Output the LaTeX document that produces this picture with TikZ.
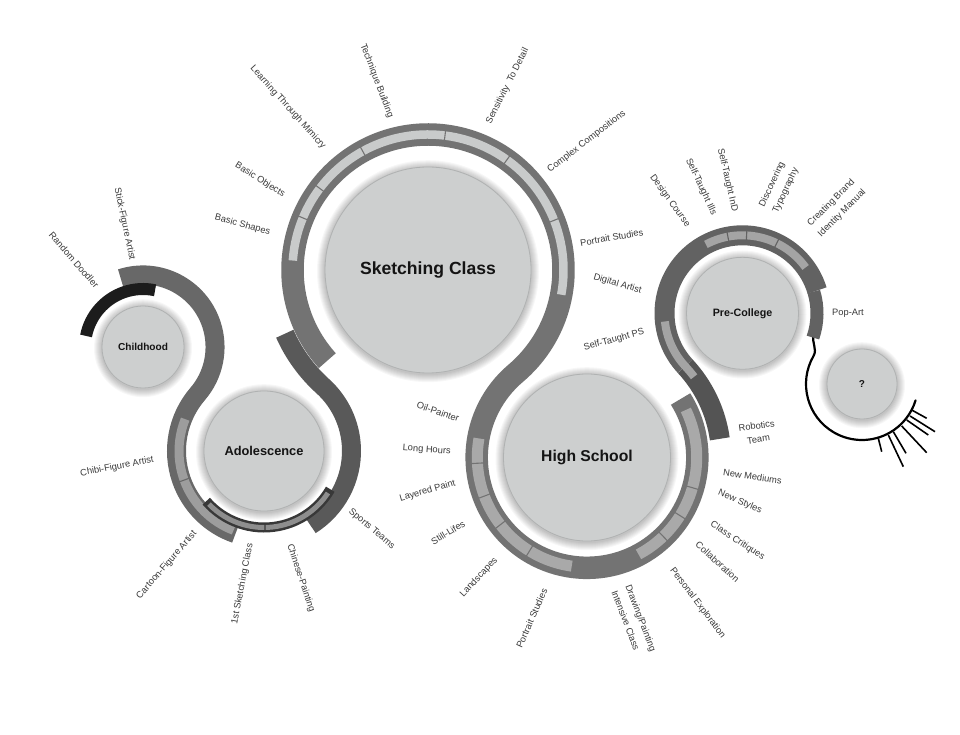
\documentclass[tikz,border=0pt]{standalone}
\usepackage{fontspec}
\setmainfont{Liberation Sans}
\usetikzlibrary{calc}
\definecolor{bandA}{HTML}{686868}
\definecolor{bandB}{HTML}{595959}
\definecolor{bandS}{HTML}{737373}
\definecolor{bandP}{HTML}{626262}
\definecolor{bandR}{HTML}{545454}
\definecolor{stripS}{HTML}{C9CBCB}
\definecolor{stripH}{HTML}{A9A9A9}
\definecolor{stripA}{HTML}{9D9D9D}
\definecolor{stripB}{HTML}{8E8E8E}
\definecolor{stripP}{HTML}{A4A4A4}
\definecolor{inkdark}{HTML}{1C1C1C}
\definecolor{blackband}{HTML}{383838}
\definecolor{circfill}{HTML}{CDCFCF}
\definecolor{circline}{HTML}{B0B2B2}
\definecolor{labelcol}{HTML}{3A3A3A}
\newcommand{\hubhalo}[3]{\foreach \k in {1,...,8}{\fill[black,fill opacity=0.03] (#1,#2-1.2) circle[radius={(#3+\k)*1pt}];}}
\newcommand{\segcut}[5]{\draw[#1,line width=1.1pt] ($(#2)+(#3:#4)$) -- ($(#2)+(#3:#5)$);}
\tikzset{
  lab/.style={font=\fontsize{9.3}{12.5}\selectfont, text=labelcol, inner sep=0pt},
  labtwo/.style={font=\fontsize{9.3}{15}\selectfont, text=labelcol, inner sep=0pt},
  hub/.style={circle, fill=circfill, draw=circline, line width=0.8pt, inner sep=0pt, text=black!92},
}
\begin{document}
\begin{tikzpicture}[x=1pt,y=1pt,line cap=butt]
\useasboundingbox (0,0) rectangle (960,734);
\fill[white] (0,0) rectangle (960,734);
\coordinate (C1) at (143,387);
\coordinate (C2) at (264,283);
\coordinate (C3) at (428,464);
\coordinate (C4) at (587,276.5);
\coordinate (C5) at (742.5,420.7);
\coordinate (C6) at (862,350);

% adolescence right band ending beside sketching ring
\draw[bandB, line width=19pt] ($(C2)+(-58:87.5)$) arc[start angle=-58, end angle=47.82, radius=87.5pt]
  arc[start angle=227.82, end angle=204, radius=156.75pt];
% childhood -> adolescence band
\draw[bandA, line width=19pt] ($(C1)+(108:72.05)$) arc[start angle=108, end angle=-40.68, radius=72.05pt]
  arc[start angle=139.32, end angle=251, radius=87.5pt];
% childhood black arc
\draw[inkdark, line width=12pt] ($(C1)+(169:58)$) arc[start angle=169, end angle=78, radius=58pt];
% adolescence strips
\draw[stripA, line width=9pt] ($(C2)+(158:85)$) arc[start angle=158, end angle=249, radius=85pt];
\segcut{bandA}{C2}{200}{79}{91}
% adolescence bottom dark band
\draw[blackband, line width=10pt] ($(C2)+(221:76.5)$) arc[start angle=221, end angle=330, radius=76.5pt];
\draw[stripB, line width=5pt] ($(C2)+(224:76.5)$) arc[start angle=224, end angle=326.7, radius=76.5pt];
\segcut{blackband}{C2}{270.75}{73}{80}

% sketching -> high school band
\draw[bandS, line width=22.5pt] ($(C3)+(222:135.5)$) arc[start angle=222, end angle=-49.7, radius=135.5pt]
  arc[start angle=130.3, end angle=392, radius=110.34pt];
% sketching strips
\draw[stripS, line width=8.5pt] ($(C3)+(176:135.5)$) arc[start angle=176, end angle=-10.5, radius=135.5pt];
\foreach \a in {157.4,143,118.8,82.8,54.4,21.5}{\segcut{bandS}{C3}{\a}{130}{141}}
% high school strips
\draw[stripH, line width=11pt] ($(C4)+(170:109.7)$) arc[start angle=170, end angle=262, radius=109.7pt];
\foreach \a in {183,200.6,217.8,238.4}{\segcut{bandS}{C4}{\a}{103.5}{116}}
\draw[stripH, line width=11pt] ($(C4)+(-62:109.7)$) arc[start angle=-62, end angle=25.7, radius=109.7pt];
\foreach \a in {-46,-32,-16}{\segcut{bandS}{C4}{\a}{103.5}{116}}

% question ring line and lashes
\draw[black, line width=2.2pt, line cap=round] ($(C5)+(-17:74.5)$) to[out=-107, in=60] ($(C6)+(150:56)$)
  arc[start angle=150, end angle=343, radius=56pt];
\draw[black, line width=1.6pt]
  (878.3,295.7) -- (881.7,282.3)
  (888.3,299) -- (903.3,267.3)
  (893.3,302.3) -- (906,280.7)
  (901.7,308) -- (926.7,281.3)
  (906.7,314) -- (928.3,299)
  (910,318) -- (935,302.3)
  (911.7,324) -- (926.7,315.7);

% pre-college band
\draw[bandR, line width=20pt] ($(C4)+(8:134.07)$) arc[start angle=8, end angle=42.84, radius=134.07pt];
\draw[bandP, line width=20pt] ($(C5)+(222.84:78)$) arc[start angle=222.84, end angle=17, radius=78pt];
\draw[bandP, line width=13pt] ($(C5)+(17:74.5)$) arc[start angle=17, end angle=-19, radius=74.5pt];
% pre-college strips
\draw[stripP, line width=8pt] ($(C5)+(118:78)$) arc[start angle=118, end angle=36, radius=78pt];
\foreach \a in {100.8,87,64}{\segcut{bandP}{C5}{\a}{73.5}{82.5}}
\draw[stripP, line width=8pt] ($(C5)+(186:78)$) arc[start angle=186, end angle=222.84, radius=78pt]
  arc[start angle=42.84, end angle=37, radius=134.07pt];

% hubs
\hubhalo{143}{387}{41}
\hubhalo{264}{283}{60}
\hubhalo{428}{464}{103}
\hubhalo{587}{276.5}{83.5}
\hubhalo{742.5}{420.7}{56}
\hubhalo{862}{350}{35}
\node[hub, minimum size=82pt, font=\fontsize{10.1}{12}\selectfont\bfseries] (child) at (C1) {Childhood};
\node[hub, minimum size=120pt, font=\fontsize{12.8}{15}\selectfont\bfseries] (adol) at (C2) {Adolescence};
\node[hub, minimum size=206pt, font=\fontsize{17.6}{20}\selectfont\bfseries] (sketch) at (C3) {Sketching Class};
\node[hub, minimum size=167pt, font=\fontsize{15.7}{18}\selectfont\bfseries] (high) at (C4) {High School};
\node[hub, minimum size=112pt, font=\fontsize{10.7}{13}\selectfont\bfseries] (prec) at (C5) {Pre-College};
\node[hub, minimum size=70pt, font=\fontsize{10}{12}\selectfont\bfseries] (quest) at (C6) {?};

% labels
\node[lab, rotate=-49] (l01) at (74,474) {Random Doodler};
\node[lab, rotate=-78] (l02) at (124.5,510) {Stick-Figure Artist};
\node[lab, rotate=-15] (l03) at (242.5,509) {Basic Shapes};
\node[lab, rotate=-32] (l04) at (260,554) {Basic Objects};
\node[lab, rotate=-48] (l05) at (288,626.5) {Learning Through Mimicry};
\node[lab, rotate=-69] (l06) at (376.7,653) {Technique Building};
\node[lab, rotate=63] (l07) at (507.5,648) {Sensitivity\ \ To Detail};
\node[lab, rotate=37.5] (l08) at (586.7,592.3) {Complex Compositions};
\node[lab, rotate=10] (l09) at (611.7,496.5) {Portrait Studies};
\node[lab, rotate=-16] (l10) at (617.5,450) {Digital Artist};
\node[lab, rotate=15] (l11) at (614,394) {Self-Taught PS};
\node[lab, rotate=-19] (l12) at (438,322.3) {Oil-Painter};
\node[lab, rotate=-4] (l13) at (426.7,284) {Long Hours};
\node[lab, rotate=16] (l14) at (427.5,243) {Layered Paint};
\node[lab, rotate=31] (l15) at (448,201.5) {Still-Lifes};
\node[lab, rotate=47] (l16) at (479,156.5) {Landscapes};
\node[lab, rotate=66] (l17) at (531.7,115.7) {Portrait Studies};
\node[labtwo, rotate=-69, align=left] (l18) at (634,113) {Drawing/Painting\\Intensive Class};
\node[lab, rotate=-53] (l19) at (697.5,131) {Personal Exploration};
\node[lab, rotate=-42] (l20) at (717.5,172.3) {Collaboration};
\node[lab, rotate=-33] (l21) at (737.5,193) {Class Critiques};
\node[lab, rotate=-23] (l22) at (740,232.3) {New Styles};
\node[lab, rotate=-8] (l23) at (752.5,257.3) {New Mediums};
\node[lab, rotate=8, align=center, font=\fontsize{9.3}{13.5}\selectfont] (l24) at (757.5,301.5) {Robotics\\Team};
\node[lab, rotate=-54] (l25) at (670,533) {Design Course};
\node[lab, rotate=-65] (l26) at (701,547.3) {Self-Taught Ills};
\node[lab, rotate=-77] (l27) at (727.5,554) {Self-Taught InD};
\node[labtwo, rotate=65, align=left] (l28) at (779,546.5) {Discovering\\Typography};
\node[labtwo, rotate=45, align=left] (l29) at (836.7,526) {Creating Brand\\Identity Manual};
\node[lab] (l30) at (848,420.5) {Pop-Art};
\node[lab, rotate=11] (l31) at (117,267.3) {Chibi-Figure Artist};
\node[lab, rotate=49] (l32) at (166.7,169) {Cartoon-Figure Artist};
\node[lab, rotate=79] (l33) at (242.5,150) {1st Sketching Class};
\node[lab, rotate=-71.5] (l34) at (300.8,156) {Chinese-Painting};
\node[lab, rotate=-40] (l35) at (371.7,205) {Sports Teams};
\end{tikzpicture}
\end{document}
